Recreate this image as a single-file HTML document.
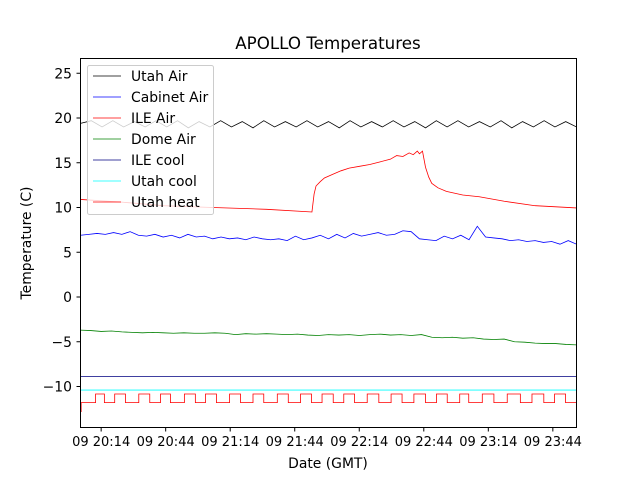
<!DOCTYPE html>
<html><head><meta charset="utf-8"><style>
body{margin:0;background:#fff;}
svg text{font-family:"DejaVu Sans","Liberation Sans",sans-serif;}
</style></head><body>
<svg id="chart" width="640" height="480" viewBox="0 0 640 480" xmlns="http://www.w3.org/2000/svg">
<rect width="640" height="480" fill="#fff"/>
<text x="328" y="49" font-size="16.7" text-anchor="middle">APOLLO Temperatures</text>
<g id="series"></g>
<rect x="80.5" y="58.5" width="496" height="369" fill="none" stroke="#000" stroke-width="1"/>
<g id="axes"></g>
<text x="328" y="468" font-size="13.9" text-anchor="middle">Date (GMT)</text>
<text transform="translate(31,243) rotate(-90)" font-size="13.9" text-anchor="middle">Temperature (C)</text>
<g id="legend"></g>
</svg>
<script>
const xTickLabels = ["09 20:14","09 20:44","09 21:14","09 21:44","09 22:14","09 22:44","09 23:14","09 23:44"];
const xTickMinutes = [9.6,39.6,69.6,99.6,129.6,159.6,189.6,219.6];
const yTicks = [-10,-5,0,5,10,15,20,25];
const utahAir = [19.4,19.7,19.0,19.7,19.0,19.6,19.0,19.7,19.0,19.7,18.9,19.6,19.0,19.7,19.0,19.6,18.9,19.7,19.0,19.6,19.0,19.7,19.0,19.6,18.9,19.7,19.0,19.6,19.0,19.7,19.0,19.6,18.9,19.7,19.0,19.7,19.0,19.6,19.0,19.7,18.9,19.6,19.0,19.7,19.0,19.6,19.0];
const cabinetAir = [6.9,7.0,7.1,7.0,7.2,7.0,7.3,6.9,6.8,7.0,6.7,6.9,6.6,7.0,6.7,6.8,6.5,6.7,6.5,6.6,6.4,6.7,6.5,6.4,6.5,6.3,6.8,6.4,6.6,6.9,6.5,7.0,6.6,7.1,6.8,7.0,7.2,6.9,7.0,7.4,7.3,6.5,6.4,6.3,6.8,6.5,6.9,6.4,7.9,6.7,6.6,6.5,6.3,6.4,6.2,6.3,6.1,6.2,5.9,6.3,5.9];
const ileAirT = [0,19.2,38.4,61.5,86.5,107.6,108.6,109.5,111.5,113.4,117.2,121.1,124.9,129.7,134.5,139.3,144.1,147,149.9,152.8,154.7,156.6,157.6,159,160.4,161.9,163.3,166.2,170.1,177.7,185.4,197,211.4,230.6];
const ileAirV = [10.9,10.6,10.2,10.0,9.8,9.5,11.5,12.4,12.9,13.3,13.7,14.1,14.4,14.6,14.8,15.1,15.4,15.8,15.7,16.1,15.9,16.3,16.0,16.3,14.5,13.4,12.7,12.2,11.8,11.4,11.2,10.7,10.2,9.95];
const domeAir = [-3.7,-3.75,-3.85,-3.8,-3.9,-3.95,-4.0,-3.95,-4.0,-4.05,-4.0,-4.05,-4.05,-4.0,-4.05,-4.2,-4.1,-4.15,-4.1,-4.15,-4.2,-4.15,-4.25,-4.3,-4.2,-4.25,-4.2,-4.3,-4.2,-4.15,-4.25,-4.2,-4.3,-4.2,-4.5,-4.55,-4.5,-4.6,-4.55,-4.7,-4.75,-4.7,-5.0,-5.05,-5.15,-5.2,-5.2,-5.3,-5.35];
const ileCool = [-8.9,-8.9];
const utahCool = [-10.4,-10.4];
const heatOnStart = [7.0,15.9,27.1,37.2,48.3,58.1,69.3,80.2,91.5,102.3,112.3,122.4,133.3,144.4,155.0,165.5,176.3,186.8,198.4,209.9,220.4];
const heatOnEnd = [11.1,20.9,32.2,41.8,53.4,63.2,74.4,85.2,96.6,107.4,117.5,127.4,138.7,149.5,160.4,170.5,180.5,192.2,204.5,215.4,225.5];
const heatOn = -10.84, heatOff = -11.8, heatInit = -12.8;

const X0=80.5, X1=576.5, TMAX=230.6;
const sx = t => X0 + (X1-X0)*t/TMAX;
const sy = v => 297 - v*8.95;
const NS="http://www.w3.org/2000/svg";
const series=document.getElementById('series'), axes=document.getElementById('axes'), legend=document.getElementById('legend');

function even(vals){return vals.map((v,i)=>[i*TMAX/(vals.length-1),v]);}
function line(pts,color,name,w){
  const p=document.createElementNS(NS,'polyline');
  p.setAttribute('points',pts.map(q=>sx(q[0]).toFixed(2)+','+sy(q[1]).toFixed(2)).join(' '));
  p.setAttribute('fill','none');p.setAttribute('stroke',color);p.setAttribute('stroke-width',w||0.8);
  
  
  series.appendChild(p);
}
line(even(utahAir),'#000','utah-air-line');
line(even(cabinetAir),'#0000ff','cabinet-air-line');
line(ileAirT.map((t,i)=>[t,ileAirV[i]]),'#ff0000','ile-air-line');
line(even(domeAir),'#008000','dome-air-line');
line(even(ileCool),'#000080','ile-cool-line');
line(even(utahCool),'#00ffff','utah-cool-line');
const hp=[[0,heatInit],[0.3,heatInit],[0.3,heatOff]];
heatOnStart.forEach((s,i)=>{hp.push([s,heatOff],[s,heatOn],[heatOnEnd[i],heatOn],[heatOnEnd[i],heatOff]);});
hp.push([TMAX,heatOff]);
line(hp,'#ff0000','utah-heat-line');

xTickMinutes.forEach((m,i)=>{
  const x=sx(m);
  const l=document.createElementNS(NS,'line');
  l.setAttribute('x1',x);l.setAttribute('x2',x);l.setAttribute('y1',427.5);l.setAttribute('y2',431.5);l.setAttribute('stroke','#000');
  
  
  axes.appendChild(l);
  const t=document.createElementNS(NS,'text');
  t.setAttribute('x',x);t.setAttribute('y',446);t.setAttribute('font-size','13');t.setAttribute('text-anchor','middle');
  t.textContent=xTickLabels[i];
  
  
  axes.appendChild(t);
});
yTicks.forEach(v=>{
  const y=sy(v);
  const l=document.createElementNS(NS,'line');
  l.setAttribute('x1',76.5);l.setAttribute('x2',80.5);l.setAttribute('y1',y);l.setAttribute('y2',y);l.setAttribute('stroke','#000');
  
  
  axes.appendChild(l);
  const t=document.createElementNS(NS,'text');
  t.setAttribute('x',72);t.setAttribute('y',y+5);t.setAttribute('font-size','13.9');t.setAttribute('text-anchor','end');
  t.textContent=(v<0?'\u2212'+(-v):String(v));
  
  
  axes.appendChild(t);
});
const legNames=["Utah Air","Cabinet Air","ILE Air","Dome Air","ILE cool","Utah cool","Utah heat"];
const legColors=["#000","#0000ff","#ff0000","#008000","#000080","#00ffff","#ff0000"];
const box=document.createElementNS(NS,'rect');
box.setAttribute('x',87.5);box.setAttribute('y',65.5);box.setAttribute('width',126);box.setAttribute('height',149);
box.setAttribute('rx',2);box.setAttribute('fill','#fff');box.setAttribute('fill-opacity','0.8');box.setAttribute('stroke','#ccc');


legend.appendChild(box);
legNames.forEach((n,i)=>{
  const y=76+i*21;
  const l=document.createElementNS(NS,'line');
  l.setAttribute('x1',93);l.setAttribute('x2',121);l.setAttribute('y1',y);l.setAttribute('y2',y);
  l.setAttribute('stroke',legColors[i]);l.setAttribute('stroke-width',0.8);
  
  
  legend.appendChild(l);
  const t=document.createElementNS(NS,'text');
  t.setAttribute('x',131);t.setAttribute('y',y+5);t.setAttribute('font-size','13.9');
  t.textContent=n;
  
  
  legend.appendChild(t);
});
</script>
</body></html>
